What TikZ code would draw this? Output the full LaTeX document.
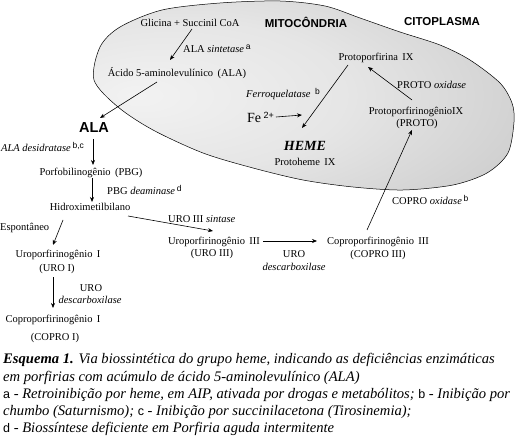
\documentclass[tikz,border=0pt]{standalone}
\usepackage{fontspec}
\setmainfont{Liberation Serif}
\setsansfont{Liberation Sans}
\usetikzlibrary{calc,arrows.meta}
\pgfdeclareradialshading{ellshade}{\pgfpoint{-20bp}{0bp}}{color(0bp)=(black!5); color(20bp)=(black!10); color(50bp)=(black!24); color(75bp)=(black!30)}
\newcommand\supx[1]{\raisebox{3pt}{\fontsize{8.5}{8.5}\selectfont\sffamily #1}}
\newcommand\capl[1]{{\upshape\fontsize{12.5}{14}\selectfont\sffamily #1}}
\begin{document}
\begin{tikzpicture}[x=1pt,y=-1pt,
  lab/.style={font=\fontsize{10.5}{12}\selectfont, inner sep=0pt},
  labw/.style={lab, anchor=west},
  hsans/.style={font=\fontsize{11.5}{13}\selectfont\sffamily\bfseries, inner sep=0pt},
  capt/.style={font=\fontsize{14.6}{16}\selectfont\itshape, anchor=west, inner sep=0pt},
  arr/.style={-{Stealth[length=5pt,width=4pt]}, line width=0.6pt}]
\useasboundingbox (0,0) rectangle (516,438);
% mitochondrion
\shadedraw[shading=ellshade, draw=black, line width=0.5pt] plot[smooth cycle] coordinates {
 (94,80) (100,47) (120,27) (162,10) (220,3) (280,1) (325,6) (360,18) (400,32) (440,45)
 (470,60) (500,83) (512,103) (514,122) (508,153) (487,173) (453,185) (403,190) (353,187)
 (303,180) (253,168) (203,153) (153,130) (118,107)};
% headers
\node[hsans] (mito) at (306,22) {MITOCÔNDRIA};
\node[hsans] (cito) at (442,22) {CITOPLASMA};
% nodes
\node[lab] (glic) at (190,23) {Glicina + Succinil CoA};
\node[labw] (alasint) at (183,49) {ALA \textit{sintetase}\,\supx{a}};
\node[lab] (acido) at (177,73) {Ácido 5-aminolevulínico\, (ALA)};
\node[font=\fontsize{14.5}{16}\selectfont\sffamily\bfseries, inner sep=0pt] (ala) at (94,128) {ALA};
\node[labw] (desid) at (1,147) {\textit{ALA desidratase}\,\supx{b,c}};
\node[lab] (pbg) at (91,173) {Porfobilinogênio\, (PBG)};
\node[labw] (pbgdeam) at (107,190) {PBG \textit{deaminase}\,\supx{d}};
\node[lab] (hidro) at (90,207) {Hidroximetilbilano};
\node[labw] (urosint) at (168,219) {URO III \textit{sintase}};
\node[labw] (espont) at (0,228) {Espontâneo};
\node[lab] (uroI) at (58,255) {Uroporfirinogênio\, I};
\node[lab] (uroIb) at (57,269) {(URO I)};
\node[lab] (urodescA) at (91,288) {URO};
\node[lab] (urodescAb) at (90,300) {\textit{descarboxilase}};
\node[lab] (coproI) at (53,320) {Coproporfirinogênio\, I};
\node[lab] (coproIb) at (55,338) {(COPRO I)};
\node[lab] (uroIII) at (214,242) {Uroporfirinogênio\, III};
\node[lab] (uroIIIb) at (212,254) {(URO III)};
\node[lab] (urodescB) at (294,254) {URO};
\node[lab] (urodescBb) at (294,267) {\textit{descarboxilase}};
\node[lab] (coproIII) at (378,242) {Coproporfirinogênio\, III};
\node[lab] (coproIIIb) at (378,255) {(COPRO III)};
\node[labw] (coprooxid) at (392,200) {COPRO \textit{oxidase}\,\supx{b}};
\node[lab] (protogen) at (416,112) {ProtoporfirinogênioIX};
\node[lab] (protogenb) at (417,124) {(PROTO)};
\node[labw] (protooxid) at (397,85) {PROTO \textit{oxidase}};
\node[lab] (protopor) at (376,58) {Protoporfirina\, IX};
\node[labw] (ferro) at (246,94) {\textit{Ferroquelatase}\;\,\supx{b}};
\node[anchor=west, inner sep=0pt, font=\fontsize{14}{16}\selectfont] (fe) at (247,117) {Fe\,\raisebox{4pt}{\fontsize{9}{9}\selectfont\sffamily 2+}};
\node[inner sep=0pt, font=\fontsize{14}{15}\selectfont\bfseries\itshape] (heme) at (305,146) {HEME};
\node[lab] (protoheme) at (305,162) {Protoheme\, IX};
% connectors
\draw[arr] ($(glic)+(2,6)$) -- ($(acido)+(-7,-13)$);
\draw[arr] ($(acido)+(-20,9)$) -- ($(ala)+(6,-10)$);
\draw[arr] ($(ala)+(-1,11)$) -- ($(pbg)+(2,-8)$);
\draw[arr] ($(pbg)+(1,5)$) -- ($(hidro)+(2,-5)$);
\draw[arr] ($(hidro)+(38,9)$) -- ($(uroIII)+(-1,-11)$);
\draw[arr] ($(hidro)+(-27,13)$) -- ($(uroI)+(-5,-10)$);
\draw[arr] ($(uroIb)+(-4,8)$) -- ($(coproI)+(0,-12)$);
\draw[arr] ($(uroIII)+(49,-1)$) -- ($(coproIII)+(-61,-1)$);
\draw[arr] ($(coproIII)+(-11,-12)$) -- ($(protogenb)+(-5,6)$);
\draw[arr] ($(protogen)+(-4,-12)$) -- ($(protopor)+(-8,9)$);
\draw[arr] ($(protopor)+(-28,7)$) -- ($(heme)+(-3,-18)$);
\draw[arr] ([xshift=2pt]fe.east) -- ($(heme)+(-3,-31)$);
% caption
\node[capt] (cap1) at (3,360) {\textbf{Esquema 1.} Via biossintética do grupo heme, indicando as deficiências enzimáticas};
\node[capt] (cap2) at (3,378) {em porfirias com acúmulo de ácido 5-aminolevulínico (ALA)};
\node[capt] (cap3) at (3,395) {\capl{a} - Retroinibição por heme, em AIP, ativada por drogas e metabólitos; \capl{b} - Inibição por};
\node[capt] (cap4) at (3,412) {chumbo (Saturnismo); \capl{c} - Inibição por succinilacetona (Tirosinemia);};
\node[capt] (cap5) at (3,429) {\capl{d} - Biossíntese deficiente em Porfiria aguda intermitente};
\end{tikzpicture}
\end{document}
